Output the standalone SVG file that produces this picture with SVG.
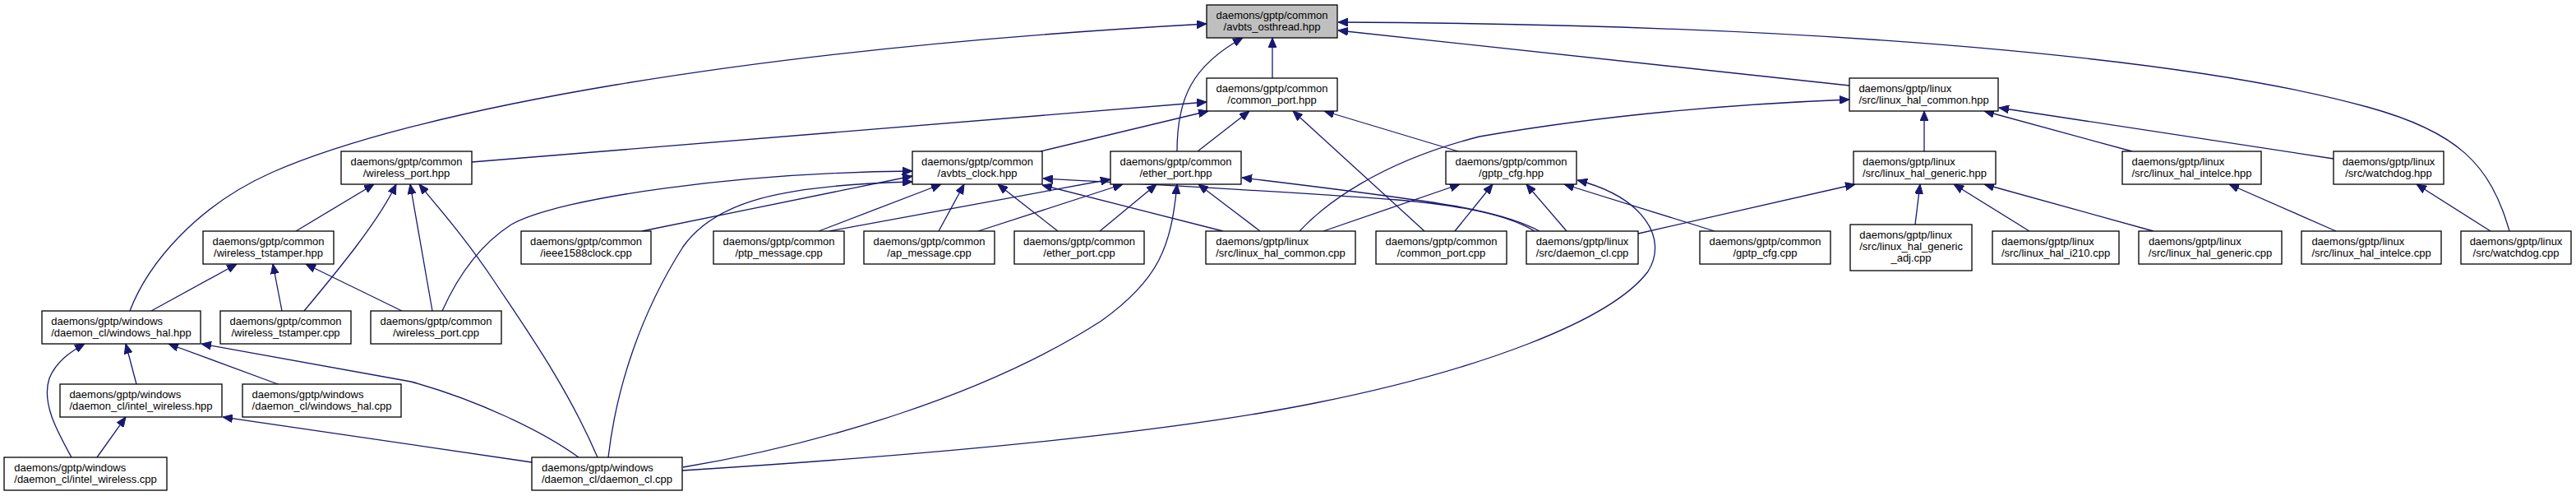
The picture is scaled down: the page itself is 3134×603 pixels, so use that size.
<svg xmlns="http://www.w3.org/2000/svg" width="3134" height="603" viewBox="0 0 3134 603">
<style>
.n rect{fill:#fff;stroke:#000;stroke-width:1.3}
.root rect{fill:#bfbfbf}
text{font-family:"Liberation Sans",Arial,Helvetica,sans-serif;font-size:13px;fill:#000}
.c{text-anchor:middle}
.e path{fill:none;stroke:#191970;stroke-width:1.3;marker-end:url(#ah)}
</style>
<defs>
<marker id="ah" markerUnits="userSpaceOnUse" viewBox="0 0 12 10" refX="12" refY="5" markerWidth="12" markerHeight="10" orient="auto">
<path d="M0,0 L12,5 L0,10 z" fill="#191970" stroke="#191970" stroke-width="1"/>
</marker>
</defs>
<rect width="3134" height="603" fill="#fff"/>
<g id="edges" class="e">
<path d="M1548,95 L1548,46"/>
<path d="M1432,184 C1432,120 1450,80 1512,46"/>
<path d="M158,378 C180,320 240,250 330,210 C500,135 900,60 1468,29"/>
<path d="M2250,104 L1628,37"/>
<path d="M3053,281 C3030,200 2990,160 2880,130 C2700,80 2300,30 1628,27"/>
<path d="M574,197 L1468,124"/>
<path d="M1266,184 L1470,135"/>
<path d="M1457,184 L1520,135"/>
<path d="M1774,184 L1611,135"/>
<path d="M1733,281 L1573,135"/>
<path d="M1581,281 C1610,250 1675,198 1800,166 C1950,140 2100,127 2250,121"/>
<path d="M2341,184 L2341,135"/>
<path d="M2594,184 L2414,135"/>
<path d="M2839,193 L2432,131"/>
<path d="M360,281 L455,224"/>
<path d="M370,378 C410,330 460,270 482,224"/>
<path d="M526,378 L499,224"/>
<path d="M727,556 C690,470 640,400 600,340 C570,295 540,260 510,224"/>
<path d="M538,378 C555,340 580,300 622,273 C680,240 900,210 1110,208"/>
<path d="M781,281 L1110,214"/>
<path d="M740,556 C750,470 780,380 831,300 C870,245 950,225 1110,221"/>
<path d="M996,281 L1145,224"/>
<path d="M1142,281 L1173,224"/>
<path d="M1287,281 L1214,224"/>
<path d="M1488,281 L1268,225"/>
<path d="M1867,281 C1830,258 1760,248 1700,243 C1550,232 1400,224 1269,217"/>
<path d="M1009,281 L1351,218"/>
<path d="M1190,281 L1366,224"/>
<path d="M1338,281 L1407,224"/>
<path d="M831,568 C1000,540 1200,480 1340,390 C1410,340 1425,300 1432,224"/>
<path d="M1533,281 L1458,224"/>
<path d="M1873,281 C1830,258 1760,248 1700,240 C1620,229 1560,222 1511,216"/>
<path d="M1610,281 L1776,224"/>
<path d="M1770,281 L1816,224"/>
<path d="M1906,281 L1857,224"/>
<path d="M2086,281 L1903,224"/>
<path d="M830,572 C1100,555 1400,530 1600,490 C1800,450 1960,390 2005,330 C2030,290 2000,240 1919,219"/>
<path d="M184,378 L288,321"/>
<path d="M343,378 L332,321"/>
<path d="M489,378 L372,321"/>
<path d="M87,556 C70,525 50,490 60,460 C68,440 85,428 103,418"/>
<path d="M166,467 L153,418"/>
<path d="M338,467 L205,418"/>
<path d="M704,556 C660,524 580,486 500,464 L245,418"/>
<path d="M118,556 L153,507"/>
<path d="M647,562 L271,507"/>
<path d="M1993,284 L2257,224"/>
<path d="M2330,273 L2336,224"/>
<path d="M2469,281 L2377,224"/>
<path d="M2620,281 L2414,224"/>
<path d="M2842,281 L2712,224"/>
<path d="M3030,281 L2940,224"/>
</g>
<g id="n_avbts_osthread_hpp" class="n root"><rect x="1468" y="6" width="159" height="40"/><text class="c" x="1547.5" y="23">daemons/gptp/common</text><text class="c" x="1547.5" y="37">/avbts_osthread.hpp</text></g>
<g id="n_common_port_hpp" class="n"><rect x="1468" y="95" width="159" height="40"/><text class="c" x="1547.5" y="112">daemons/gptp/common</text><text class="c" x="1547.5" y="126">/common_port.hpp</text></g>
<g id="n_linux_hal_common_hpp" class="n"><rect x="2250" y="95" width="181" height="40"/><text x="2261.4" y="112">daemons/gptp/linux</text><text class="c" x="2340.5" y="126">/src/linux_hal_common.hpp</text></g>
<g id="n_wireless_port_hpp" class="n"><rect x="415" y="184" width="159" height="40"/><text class="c" x="494.5" y="201">daemons/gptp/common</text><text class="c" x="494.5" y="215">/wireless_port.hpp</text></g>
<g id="n_avbts_clock_hpp" class="n"><rect x="1110" y="184" width="158" height="40"/><text class="c" x="1189" y="201">daemons/gptp/common</text><text class="c" x="1189" y="215">/avbts_clock.hpp</text></g>
<g id="n_ether_port_hpp" class="n"><rect x="1351" y="184" width="159" height="40"/><text class="c" x="1430.5" y="201">daemons/gptp/common</text><text class="c" x="1430.5" y="215">/ether_port.hpp</text></g>
<g id="n_gptp_cfg_hpp" class="n"><rect x="1759" y="184" width="159" height="40"/><text class="c" x="1838.5" y="201">daemons/gptp/common</text><text class="c" x="1838.5" y="215">/gptp_cfg.hpp</text></g>
<g id="n_linux_hal_generic_hpp" class="n"><rect x="2255" y="184" width="173" height="40"/><text x="2266" y="201">daemons/gptp/linux</text><text class="c" x="2341.5" y="215">/src/linux_hal_generic.hpp</text></g>
<g id="n_linux_hal_intelce_hpp" class="n"><rect x="2582" y="184" width="169" height="40"/><text x="2593.5" y="201">daemons/gptp/linux</text><text class="c" x="2666.5" y="215">/src/linux_hal_intelce.hpp</text></g>
<g id="n_watchdog_hpp" class="n"><rect x="2839" y="184" width="134" height="40"/><text class="c" x="2906" y="201">daemons/gptp/linux</text><text class="c" x="2906" y="215">/src/watchdog.hpp</text></g>
<g id="n_wireless_tstamper_hpp" class="n"><rect x="247" y="281" width="159" height="40"/><text class="c" x="326.5" y="298">daemons/gptp/common</text><text class="c" x="326.5" y="312">/wireless_tstamper.hpp</text></g>
<g id="n_ieee1588clock_cpp" class="n"><rect x="634" y="281" width="158" height="40"/><text class="c" x="713" y="298">daemons/gptp/common</text><text class="c" x="713" y="312">/ieee1588clock.cpp</text></g>
<g id="n_ptp_message_cpp" class="n"><rect x="868" y="281" width="159" height="40"/><text class="c" x="947.5" y="298">daemons/gptp/common</text><text class="c" x="947.5" y="312">/ptp_message.cpp</text></g>
<g id="n_ap_message_cpp" class="n"><rect x="1051" y="281" width="159" height="40"/><text class="c" x="1130.5" y="298">daemons/gptp/common</text><text class="c" x="1130.5" y="312">/ap_message.cpp</text></g>
<g id="n_ether_port_cpp" class="n"><rect x="1234" y="281" width="158" height="40"/><text class="c" x="1313" y="298">daemons/gptp/common</text><text class="c" x="1313" y="312">/ether_port.cpp</text></g>
<g id="n_linux_hal_common_cpp" class="n"><rect x="1467" y="281" width="182" height="40"/><text x="1479.3" y="298">daemons/gptp/linux</text><text class="c" x="1558" y="312">/src/linux_hal_common.cpp</text></g>
<g id="n_common_port_cpp" class="n"><rect x="1674" y="281" width="159" height="40"/><text class="c" x="1753.5" y="298">daemons/gptp/common</text><text class="c" x="1753.5" y="312">/common_port.cpp</text></g>
<g id="n_linux_daemon_cl_cpp" class="n"><rect x="1857" y="281" width="136" height="40"/><text class="c" x="1925" y="298">daemons/gptp/linux</text><text class="c" x="1925" y="312">/src/daemon_cl.cpp</text></g>
<g id="n_gptp_cfg_cpp" class="n"><rect x="2068" y="281" width="159" height="40"/><text class="c" x="2147.5" y="298">daemons/gptp/common</text><text class="c" x="2147.5" y="312">/gptp_cfg.cpp</text></g>
<g id="n_linux_hal_generic_adj_cpp" class="n"><rect x="2251" y="273" width="148" height="56"/><text x="2262.2" y="290">daemons/gptp/linux</text><text x="2262.2" y="304">/src/linux_hal_generic</text><text class="c" x="2325" y="318">_adj.cpp</text></g>
<g id="n_linux_hal_i210_cpp" class="n"><rect x="2424" y="281" width="154" height="40"/><text x="2434.9" y="298">daemons/gptp/linux</text><text class="c" x="2501" y="312">/src/linux_hal_i210.cpp</text></g>
<g id="n_linux_hal_generic_cpp" class="n"><rect x="2602" y="281" width="174" height="40"/><text x="2613.9" y="298">daemons/gptp/linux</text><text class="c" x="2689" y="312">/src/linux_hal_generic.cpp</text></g>
<g id="n_linux_hal_intelce_cpp" class="n"><rect x="2800" y="281" width="170" height="40"/><text x="2812.4" y="298">daemons/gptp/linux</text><text class="c" x="2885" y="312">/src/linux_hal_intelce.cpp</text></g>
<g id="n_watchdog_cpp" class="n"><rect x="2994" y="281" width="134" height="40"/><text class="c" x="3061" y="298">daemons/gptp/linux</text><text class="c" x="3061" y="312">/src/watchdog.cpp</text></g>
<g id="n_windows_hal_hpp" class="n"><rect x="51" y="378" width="193" height="40"/><text x="62.2" y="395">daemons/gptp/windows</text><text class="c" x="147.5" y="409">/daemon_cl/windows_hal.hpp</text></g>
<g id="n_wireless_tstamper_cpp" class="n"><rect x="268" y="378" width="159" height="40"/><text class="c" x="347.5" y="395">daemons/gptp/common</text><text class="c" x="347.5" y="409">/wireless_tstamper.cpp</text></g>
<g id="n_wireless_port_cpp" class="n"><rect x="451" y="378" width="159" height="40"/><text class="c" x="530.5" y="395">daemons/gptp/common</text><text class="c" x="530.5" y="409">/wireless_port.cpp</text></g>
<g id="n_intel_wireless_hpp" class="n"><rect x="73" y="467" width="197" height="40"/><text x="84.4" y="484">daemons/gptp/windows</text><text class="c" x="171.5" y="498">/daemon_cl/intel_wireless.hpp</text></g>
<g id="n_windows_hal_cpp" class="n"><rect x="295" y="467" width="193" height="40"/><text x="306.6" y="484">daemons/gptp/windows</text><text class="c" x="391.5" y="498">/daemon_cl/windows_hal.cpp</text></g>
<g id="n_intel_wireless_cpp" class="n"><rect x="5" y="556" width="198" height="40"/><text x="17.3" y="573">daemons/gptp/windows</text><text class="c" x="104" y="587">/daemon_cl/intel_wireless.cpp</text></g>
<g id="n_windows_daemon_cl_cpp" class="n"><rect x="647" y="556" width="183" height="40"/><text x="659" y="573">daemons/gptp/windows</text><text class="c" x="738.5" y="587">/daemon_cl/daemon_cl.cpp</text></g>
</svg>
